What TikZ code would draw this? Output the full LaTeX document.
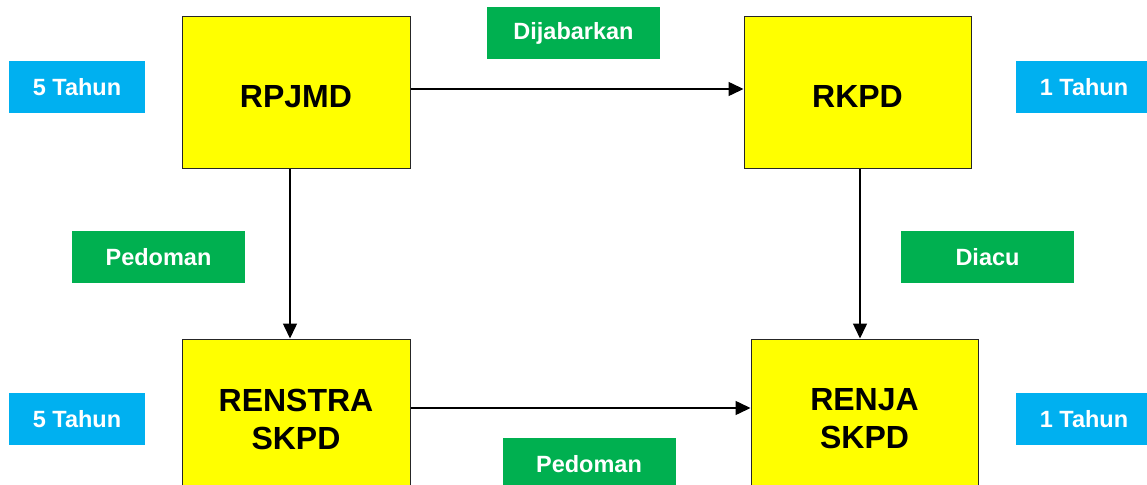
\documentclass[tikz,border=0pt]{standalone}
\usepackage{fontspec}
\setmainfont{Liberation Sans}
\usetikzlibrary{arrows.meta}
\definecolor{ybox}{HTML}{FFFF00}
\definecolor{gbox}{HTML}{00B050}
\definecolor{bbox}{HTML}{00B0F0}
\tikzset{
  mainbox/.style={draw=black!85, line width=1pt, fill=ybox, inner sep=0pt, minimum height=151pt,
    align=center, font=\fontsize{32}{38}\selectfont\bfseries},
  lowtext/.style={text height=31pt, text depth=0pt},
  greenlbl/.style={fill=gbox, inner sep=0pt, minimum width=173pt, minimum height=52pt,
    text=white, font=\fontsize{23.5}{28}\selectfont\bfseries},
  bluelbl/.style={fill=bbox, inner sep=0pt, minimum width=136pt, minimum height=52pt,
    text=white, font=\fontsize{23.5}{28}\selectfont\bfseries},
  conn/.style={line width=1.5pt, -{Triangle[length=15pt,width=14pt]}}
}
\begin{document}
\begin{tikzpicture}[x=1pt,y=-1pt]
\clip (0,0) rectangle (1147,484);
\fill[white] (0,0) rectangle (1147,484);
\node[mainbox, lowtext, minimum width=228pt] (rpjmd) at (296,92.5) {RPJMD};
\node[mainbox, lowtext, minimum width=227pt] (rkpd) at (857.5,92.5) {RKPD};
\node[mainbox, minimum width=228pt, minimum height=160pt] (renstra) at (296,419) {RENSTRA\\SKPD};
\node[mainbox, minimum width=227pt, minimum height=160pt] (renja) at (864.5,419) {RENJA\\SKPD};

\node[greenlbl] (dijabarkan) at (573.5,33) {Dijabarkan};
\node[greenlbl] (pedoman1) at (158.5,257) {Pedoman};
\node[greenlbl] (diacu) at (987.5,257) {Diacu};
\node[greenlbl] (pedoman2) at (589,464) {Pedoman};

\node[bluelbl] (t1) at (77,87) {5 Tahun};
\node[bluelbl] (t2) at (1084,87) {1 Tahun};
\node[bluelbl] (t3) at (77,419) {5 Tahun};
\node[bluelbl] (t4) at (1084,419) {1 Tahun};

\draw[conn] ([yshift=3.5pt]rpjmd.east) -- ([yshift=3.5pt]rpjmd.east -| rkpd.west);
\draw[conn] ([xshift=-6pt]rpjmd.south) -- ([xshift=-6pt]rpjmd.south |- renstra.north);
\draw[conn] ([xshift=2.5pt]rkpd.south) -- ([xshift=2.5pt]rkpd.south |- renja.north);
\draw[conn] ([yshift=11pt]renstra.east) -- ([yshift=11pt]renstra.east -| renja.west);
\end{tikzpicture}
\end{document}
